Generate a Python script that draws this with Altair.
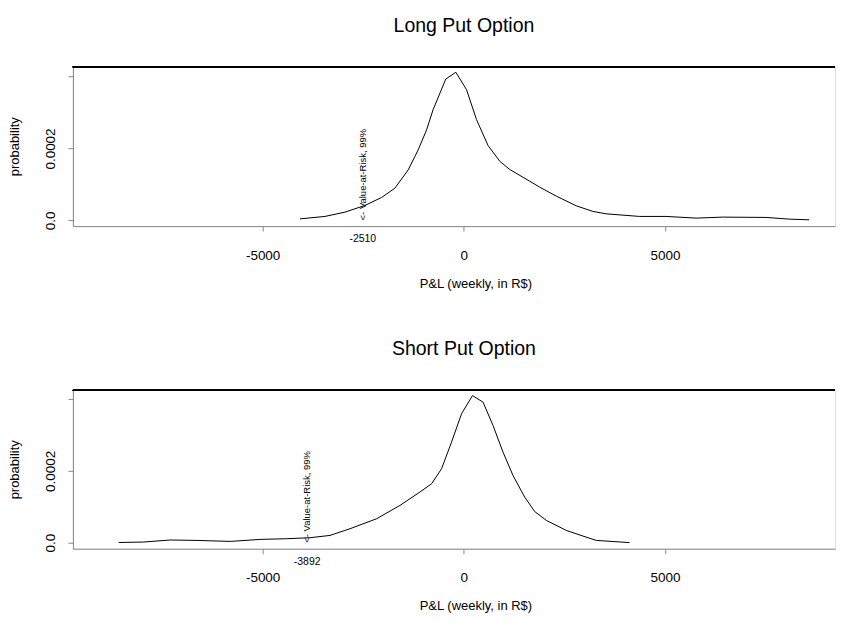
import altair as alt
import pandas as pd

# ---- data ----
long_x = [-4069, -3449, -2952, -2456, -2042, -1712, -1382, -1134, -925, -762,
          -447, -198, 67, 315, 603, 893, 1141, 1637, 1886, 2300, 2796, 3208,
          3540, 4367, 5029, 5774, 6434, 7510, 8088, 8584]
long_y = [4.4e-6, 11.1e-6, 23.1e-6, 41.7e-6, 63.9e-6, 89.7e-6, 140.6e-6, 196.1e-6,
          251.7e-6, 308.3e-6, 393.3e-6, 411.9e-6, 363.9e-6, 280.6e-6, 208.3e-6,
          164.7e-6, 141.7e-6, 109.2e-6, 92.5e-6, 67.5e-6, 40.6e-6, 25.0e-6,
          18.3e-6, 11.1e-6, 11.1e-6, 6.4e-6, 9.2e-6, 8.3e-6, 3.6e-6, 1.7e-6]

short_x = [-8577, -7957, -7294, -6632, -5805, -5061, -4399, -3821, -3325, -2828,
           -2166, -1588, -1092, -801, -553, -305, -57, 216, 479, 727, 975, 1223,
           1513, 1761, 2052, 2548, 2960, 3292, 4119]
short_y = [0.5e-6, 1.9e-6, 7.5e-6, 6.4e-6, 3.6e-6, 9.2e-6, 11.1e-6, 13.9e-6,
           20.3e-6, 38.9e-6, 66.7e-6, 103.6e-6, 140.8e-6, 163.9e-6, 205.6e-6,
           279.7e-6, 358.3e-6, 409.2e-6, 390.8e-6, 325.8e-6, 251.9e-6, 186.9e-6,
           126.9e-6, 86.9e-6, 61.9e-6, 34.2e-6, 18.6e-6, 6.4e-6, 0.3e-6]

titles = ["Long Put Option", "Short Put Option"]
var_values = [-2510, -3892]
var_label = "<- Value-at-Risk, 99%"
x_ticks = [-5000, 0, 5000]
y_ticks = [0.0, 0.0001, 0.0002, 0.0003, 0.0004]
x_title = "P&L (weekly, in R$)"
y_title = "probability"

FONT = "Liberation Sans"
W = 763
X_DOMAIN = [-9715, 9226]


def panel(xs, ys, title, var_value, y_domain, height):
    df = pd.DataFrame({"x": xs, "y": ys})
    var_df = pd.DataFrame({"x": [var_value], "y": [0.0],
                           "lab": [var_label], "num": [str(var_value)]})

    xscale = alt.Scale(domain=X_DOMAIN, nice=False, zero=False)
    yscale = alt.Scale(domain=y_domain, nice=False, zero=False)

    xaxis = alt.Axis(values=x_ticks, title=x_title, tickSize=5, labelPadding=28,
                     labelBaseline="alphabetic", labelFontSize=13.5, labelFlush=False,
                     labelOverlap=False, labelExpr="'' + datum.value",
                     titleFontSize=13, titleFontWeight="normal",
                     titleX=403, titleY=61, titleAlign="center",
                     titleBaseline="alphabetic", grid=False)
    yaxis = alt.Axis(values=y_ticks, title=y_title, tickSize=5, labelPadding=13,
                     labelAngle=270, labelAlign="center", labelBaseline="alphabetic",
                     labelFontSize=13.5, labelOverlap=False, labelFlush=False,
                     labelExpr="datum.value == 0 ? '0.0' : (datum.value == 0.0002 ? '0.0002' : '')",
                     titleFontSize=13, titleFontWeight="normal", titleAngle=270,
                     titleX=-58, titleY=height / 2, titleAlign="center",
                     titleBaseline="middle", grid=False)

    line = alt.Chart(df).mark_line(color="black", strokeWidth=1).encode(
        x=alt.X("x:Q", scale=xscale, axis=xaxis),
        y=alt.Y("y:Q", scale=yscale, axis=yaxis),
    )
    top_rule = alt.Chart(df).mark_rule(color="black", strokeWidth=1).encode(
        x=alt.value(0), x2=alt.value(W), y=alt.value(0.5)
    )
    var_text = alt.Chart(var_df).mark_text(
        angle=270, align="left", baseline="middle", fontSize=9.5, font=FONT, color="black"
    ).encode(x=alt.X("x:Q", scale=xscale), y=alt.Y("y:Q", scale=yscale), text="lab:N")
    var_num = alt.Chart(var_df).mark_text(
        align="center", baseline="alphabetic", fontSize=10.5, font=FONT, color="black", dy=22
    ).encode(x=alt.X("x:Q", scale=xscale), y=alt.Y("y:Q", scale=yscale), text="num:N")

    return alt.layer(line, top_rule, var_text, var_num).properties(
        width=W, height=height,
        title=alt.TitleParams(title, fontSize=19.5, fontWeight="normal", font=FONT,
                              anchor="start", align="center", dx=391.5, frame="group",
                              offset=15, baseline="alphabetic", color="black"),
    )


top = panel(long_x, long_y, titles[0], var_values[0], [-0.0000158, 0.0004286], 160)
bottom = panel(short_x, short_y, titles[1], var_values[1], [-0.0000167, 0.000425], 159)

chart = alt.vconcat(top, bottom, spacing=48).properties(
    padding={"left": 0, "top": 7, "right": 0, "bottom": 0}
).configure_view(strokeWidth=0).configure_axis(
    domainColor="black", tickColor="black", labelColor="black", titleColor="black",
    labelFont=FONT, titleFont=FONT, domainWidth=1, tickWidth=1
).configure(background="white")

chart.save("out.html", embed_options={"renderer": "svg", "actions": False})
